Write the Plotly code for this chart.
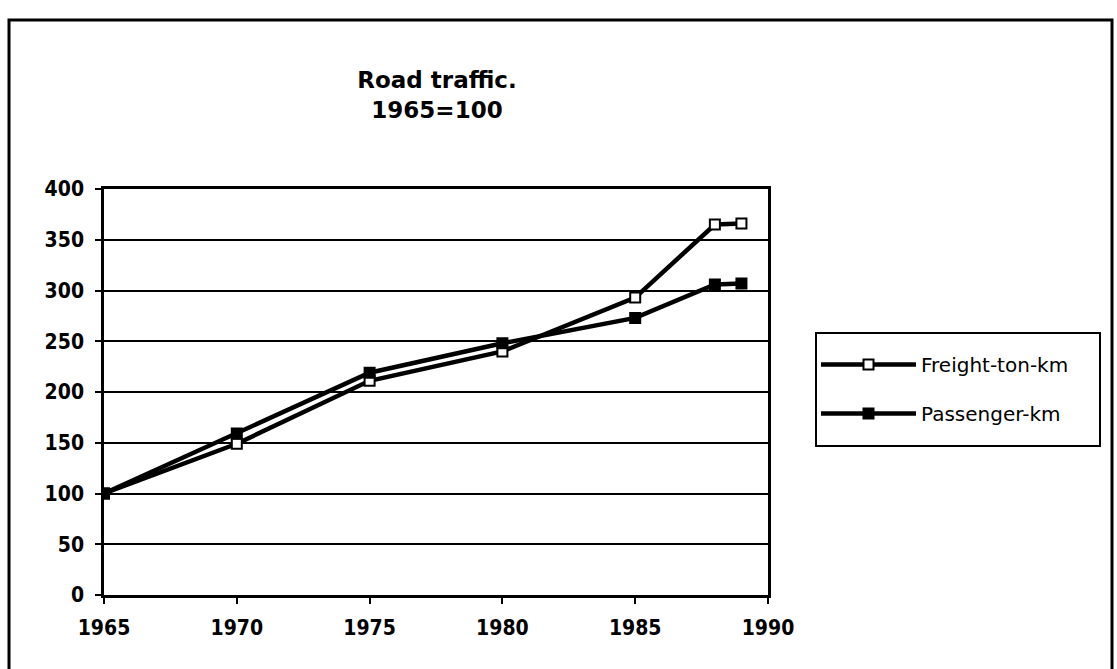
import plotly.graph_objects as go

# road traffic index, 1965=100
years = [1965, 1970, 1975, 1980, 1985, 1988, 1989]
freight = [100, 149, 211, 240, 293, 365, 366]
passenger = [100, 159, 219, 248, 273, 306, 307]

x_ticks = [1965, 1970, 1975, 1980, 1985, 1990]
y_ticks = [0, 50, 100, 150, 200, 250, 300, 350, 400]

tick_font = dict(family="DejaVu Sans Condensed", size=21, color="black", weight="bold")

fig = go.Figure()

fig.add_trace(go.Scatter(
    x=years, y=freight, name="Freight-ton-km", mode="lines+markers",
    legendgroup="f",
    line=dict(color="black", width=4.5),
    marker=dict(symbol="square", size=10, color="white", line=dict(color="black", width=2))
))
fig.add_trace(go.Scatter(
    x=years, y=passenger, name="Passenger-km", mode="lines+markers",
    legendgroup="p",
    line=dict(color="black", width=4.5),
    marker=dict(symbol="square", size=10, color="black", line=dict(color="black", width=2))
))

# pixel -> paper helpers for the plot area (104..768 x, 189..595 y)
def px(x):
    return (x - 104) / 664

def py(y):
    return (595 - y) / 406

fig.update_layout(
    width=1117, height=669,
    margin=dict(l=104, r=349, t=189, b=74),
    paper_bgcolor="white", plot_bgcolor="white",
    title=dict(
        text="<b>Road traffic.<br>1965=100</b>",
        x=px(437), xanchor="center", xref="paper",
        y=1 - 88 / 669, yanchor="top", yref="container",
        font=dict(family="DejaVu Sans", size=23, color="black")
    ),
    legend=dict(
        x=px(816), xanchor="left",
        y=py(345), yanchor="top",
        borderwidth=0, bgcolor="rgba(0,0,0,0)",
        font=dict(family="DejaVu Sans", size=20, color="black"),
        itemwidth=95, tracegroupgap=20, traceorder="grouped"
    ),
    shapes=[
        # outer frame
        dict(type="rect", xref="paper", yref="paper",
             x0=px(9), x1=px(1112), y0=-0.3, y1=py(20),
             line=dict(color="black", width=3), layer="below"),
        # legend box
        dict(type="rect", xref="paper", yref="paper",
             x0=px(816), x1=px(1100), y0=py(446), y1=py(333),
             line=dict(color="black", width=2), layer="below"),
    ]
)

fig.update_xaxes(
    range=[1965, 1990], tickvals=x_ticks,
    showgrid=False, zeroline=False,
    showline=True, linecolor="black", linewidth=2.5, mirror=True,
    ticks="outside", ticklen=6, tickwidth=2, tickcolor="black",
    tickfont=tick_font, ticklabelstandoff=6
)
fig.update_yaxes(
    range=[0, 400], tickvals=y_ticks,
    showgrid=True, gridcolor="black", gridwidth=2, zeroline=False,
    showline=True, linecolor="black", linewidth=2.5, mirror=True,
    ticks="outside", ticklen=6, tickwidth=2, tickcolor="black",
    tickfont=tick_font, ticklabelstandoff=7
)

fig.write_html("out.html", config={"displayModeBar": False},
               post_script="document.body.style.margin='0';")
